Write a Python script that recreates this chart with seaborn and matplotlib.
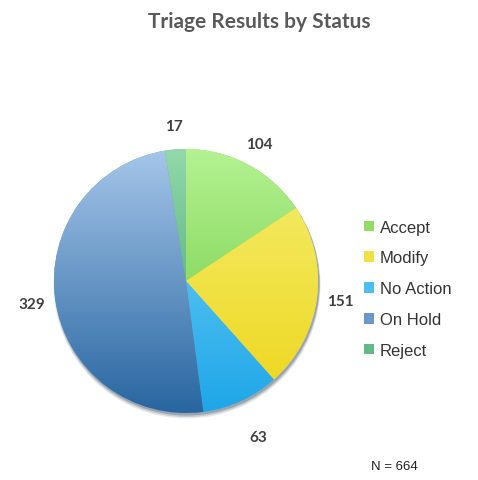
import numpy as np
import matplotlib
matplotlib.use("Agg")
import matplotlib.pyplot as plt
import seaborn as sns
from matplotlib.patches import Circle
from matplotlib.colors import to_rgb

# data
statuses = ["Accept", "Modify", "No Action", "On Hold", "Reject"]
counts = [104, 151, 63, 329, 17]
title = "Triage Results by Status"
n_label = "N = 664"

# top / bottom colours of each slice's gradient
tops = ["#b4f292", "#f4ee72", "#7ad6f8", "#a6c6ea", "#92d8aa"]
bottoms = ["#68c63a", "#eed61a", "#1ea6e8", "#2866a0", "#3a9a62"]
mids = ["#8edc62", "#f0e246", "#4cbef0", "#6a98c8", "#62ba86"]

sns.set_theme(style="white")
plt.rcParams['font.family'] = ['Liberation Sans', 'DejaVu Sans']

fig = plt.figure(figsize=(4.78, 4.81), dpi=100)
ax = fig.add_axes([0, 0, 1, 1])
ax.set_xlim(0, 478)
ax.set_ylim(0, 481)
ax.axis("off")

cx, cy, r = 186, 481 - 282, 132

# soft shadow under the pie
for i, a in enumerate([0.10, 0.15, 0.22]):
    ax.add_patch(Circle((cx + 1, cy - 4 + i), r + 1.5 - i * 0.5, color="#0e2236",
                        alpha=a, lw=0, zorder=1))

wedges, texts = ax.pie(counts, colors=mids, startangle=90, counterclock=False,
                       center=(cx, cy), radius=r, labels=[str(c) for c in counts],
                       labeldistance=1.18,
                       wedgeprops=dict(linewidth=0, zorder=2),
                       textprops=dict(fontsize=11, color="#404040", family="Lato",
                                      fontweight="bold", ha="center", va="center"))

# vertical gradient inside every slice
h = 256
t = np.linspace(0, 1, h)[:, None, None]
for w, c0, c1 in zip(wedges, tops, bottoms):
    g = (1 - t) * np.array(to_rgb(c0)) + t * np.array(to_rgb(c1))
    g = np.repeat(g, 2, axis=1)
    img = ax.imshow(g, extent=(cx - r, cx + r, cy - r, cy + r), origin="upper",
                    aspect="auto", zorder=3, interpolation="bilinear")
    img.set_clip_path(w)

for tx in texts:
    tx.set_ha("center")
# the lower label sits further out, past the shadow
w = wedges[2]
ang = np.deg2rad((w.theta1 + w.theta2) / 2)
texts[2].set_position((cx + 1.3 * r * np.cos(ang) + 1, cy + 1.3 * r * np.sin(ang)))

ax.set_xlim(0, 478)
ax.set_ylim(0, 481)

ax.text(259, 481 - 22, title, ha="center", va="center", fontsize=15,
        fontweight="bold", color="#595959", family="Lato")

leg = ax.legend(wedges, statuses, loc="upper left",
                bbox_to_anchor=(357 / 478, 1 - 214 / 481),
                frameon=False, fontsize=12, labelspacing=0.95, handlelength=0.6,
                handleheight=0.6, handletextpad=0.35, borderaxespad=0)
for t_ in leg.get_texts():
    t_.set_color("#333333")

ax.text(371, 481 - 467, n_label, ha="left", va="center", fontsize=9.5, color="#222222")

fig.savefig("out.png", dpi=100)
